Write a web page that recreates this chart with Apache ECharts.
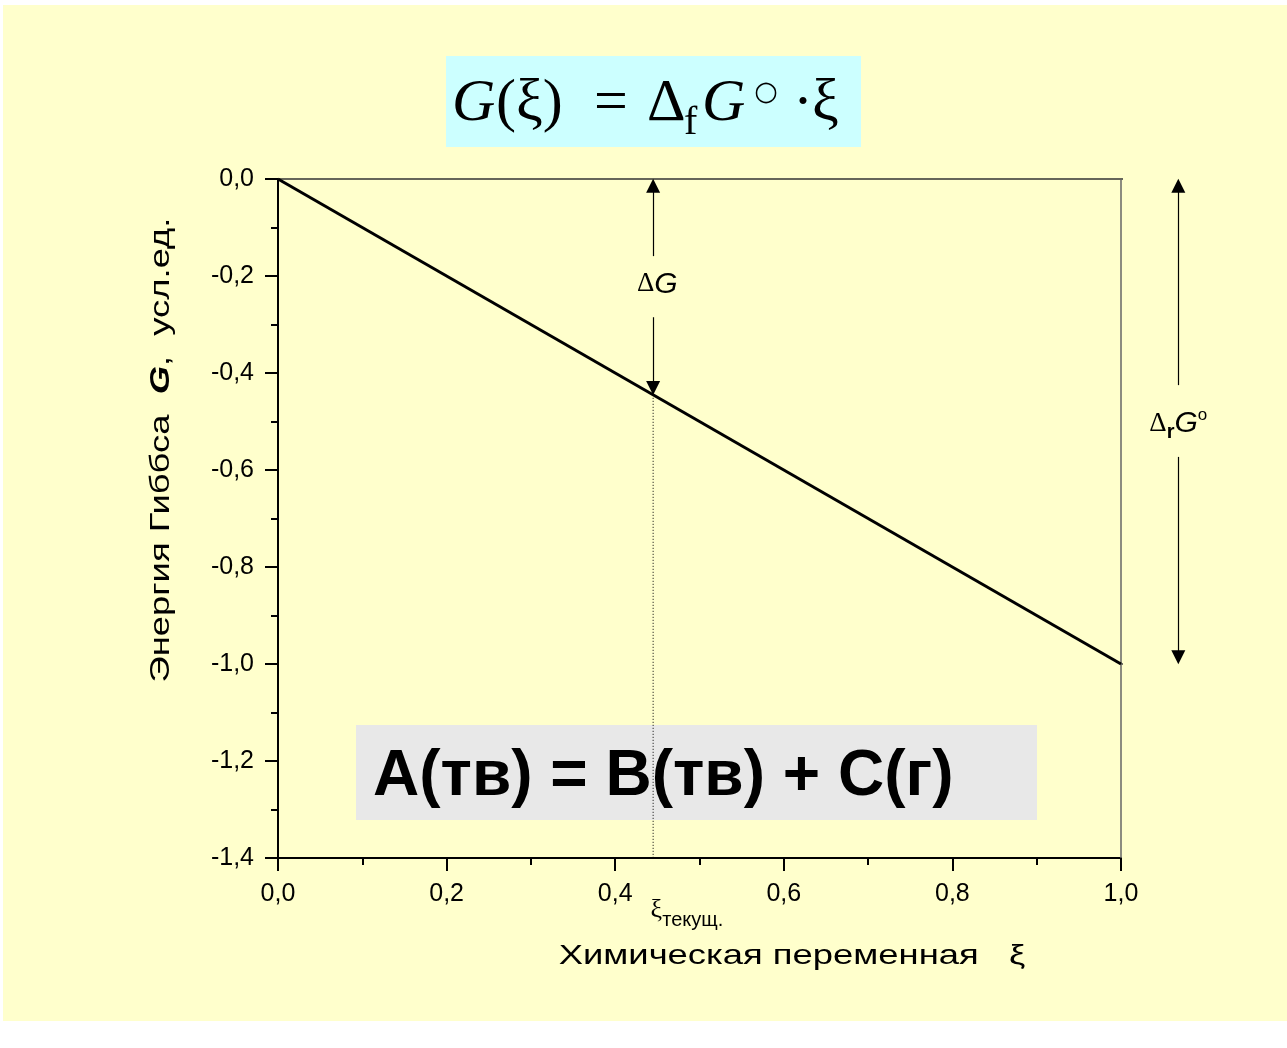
<!DOCTYPE html>
<html><head><meta charset="utf-8">
<script src="https://cdn.jsdelivr.net/npm/echarts@6/dist/echarts.min.js"></script>
<style>html,body{margin:0;padding:0;background:#fff}#c{width:1287px;height:1048px}</style>
</head><body><div id="c"></div>
<script>
// ---- data ----
const xiLine = [0, 1];            // chemical variable
const gLine = [0, -1];            // Gibbs energy
const xiCurrent = 0.445;          // ξ текущ.
const gCurrent = -0.445;
const xiRightArrow = 1.068;
const topExtEnd = 1.127;
const bottomExtEnd = 1.136;
const yTicks = ['0,0','-0,2','-0,4','-0,6','-0,8','-1,0','-1,2','-1,4'];
const xTicks = ['0,0','0,2','0,4','0,6','0,8','1,0'];
const arrowHalf = 0.014;
// arrow segments (value coords)
const dGTop = [[xiCurrent, -0.159], [xiCurrent, 0 - arrowHalf]];
const dGBot = [[xiCurrent, -0.285], [xiCurrent, gCurrent + arrowHalf]];
const drTop = [[xiRightArrow, -0.425], [xiRightArrow, 0 - arrowHalf]];
const drBot = [[xiRightArrow, -0.573], [xiRightArrow, -1 + arrowHalf]];

const chart = echarts.init(document.getElementById('c'), null, {renderer:'canvas'});
const fmt = v => v.toFixed(1).replace('.', ',');
const sans = 'Liberation Sans, Arial, sans-serif';
const serif = 'Liberation Serif, Times New Roman, serif';

const T = (txt, x, y, size, extra) => Object.assign({type: 'text', x: x, y: y,
  style: Object.assign({text: txt, fontFamily: serif, fontSize: size, fill: '#000', align: 'left', verticalAlign: 'middle'}, extra || {})});

chart.setOption({
  animation: false,
  backgroundColor: 'transparent',
  grid: {left: 278, top: 179, width: 843, height: 679, containLabel: false},
  xAxis: {
    type: 'value', min: 0, max: 1, interval: 0.2,
    axisLine: {show: true, onZero: false, lineStyle: {color: '#000', width: 2}},
    axisTick: {show: true, length: 13, lineStyle: {color: '#000', width: 2}},
    minorTick: {show: true, splitNumber: 2, length: 7, lineStyle: {color: '#000', width: 2}},
    splitLine: {show: false},
    axisLabel: {formatter: fmt, fontFamily: sans, fontSize: 25, color: '#000', margin: 24}
  },
  yAxis: {
    type: 'value', min: -1.4, max: 0, interval: 0.2,
    axisLine: {show: true, onZero: false, lineStyle: {color: '#000', width: 2}},
    axisTick: {show: true, length: 13, lineStyle: {color: '#000', width: 2}},
    minorTick: {show: true, splitNumber: 2, length: 7, lineStyle: {color: '#000', width: 2}},
    splitLine: {show: false},
    axisLabel: {formatter: fmt, fontFamily: sans, fontSize: 25, color: '#000', margin: 24}
  },
  series: [
    {type: 'line', data: xiLine.map((x,i)=>[x, gLine[i]]), symbol: 'none', clip: false,
     lineStyle: {color: '#000', width: 3}, z: 5},
    {type: 'line', data: [[0,0],[topExtEnd,0]], symbol: 'none', clip: false,
     lineStyle: {color: '#333', width: 1.5}, z: 4},
    {type: 'line', data: [[1,-1],[bottomExtEnd,-1]], symbol: 'none', clip: false,
     lineStyle: {color: '#444', width: 1.5}, z: 4},
    {type: 'line', data: [[1,0],[1,-1.4]], symbol: 'none', clip: false,
     lineStyle: {color: '#666', width: 1.5}, z: 4},
    {type: 'line', data: [[xiCurrent,gCurrent],[xiCurrent,-1.4]], symbol: 'none', clip: false,
     lineStyle: {color: '#000', width: 1, type: [1,2]}, z: 4},
    {type: 'lines', coordinateSystem: 'cartesian2d', clip: false, z: 6,
     symbol: ['none','triangle'], symbolSize: [7,14],
     lineStyle: {color: '#000', width: 1.2, opacity: 1},
     data: [{coords: dGTop},{coords: dGBot},{coords: drTop},{coords: drBot}]},
    {type: 'scatter', clip: false, symbolSize: 0, z: 7,
     itemStyle: {opacity: 1, color: '#000'},
     data: [
       {value: [xiCurrent + 0.005, -0.217], label: {formatter: '{d|Δ}{g|G}'}},
       {value: [xiRightArrow, -0.505], label: {formatter: '{d|Δ}{r|r}{g|G}{o|o}'}},
       {value: [xiCurrent - 0.003, -1.512], label: {formatter: '{x|ξ}{t|текущ.}', align: 'left'}}
     ],
     label: {show: true, position: 'inside', color: '#000', opacity: 1, textBorderWidth: 0,
       rich: {
         d: {fontFamily: serif, fontSize: 27, color: '#000'},
         g: {fontFamily: sans, fontSize: 30, fontStyle: 'italic', color: '#000'},
         r: {fontFamily: sans, fontSize: 20, fontWeight: 'bold', color: '#000', padding: [18,0,0,0]},
         o: {fontFamily: sans, fontSize: 17, color: '#000', padding: [0,0,18,0]},
         x: {fontFamily: serif, fontSize: 26, color: '#000', padding: [0,0,4,0]},
         t: {fontFamily: sans, fontSize: 20, color: '#000', padding: [16,0,0,0]}
       }}
    }
  ],
  graphic: [
    {type: 'rect', left: 3, top: 5, shape: {width: 1284, height: 1016}, style: {fill: '#FFFFCC'}, z: -10, silent: true},
    // formula box
    {type: 'group', x: 446, y: 56, z: 100, children: [
      {type: 'rect', shape: {x: 0, y: 0, width: 415, height: 91}, style: {fill: '#CCFFFF'}},
      T('G', 6, 48, 60, {fontStyle: 'italic'}),
      T('(ξ)', 50, 48, 60),
      T('=', 148, 48, 60),
      T('Δ', 201, 48, 60),
      T('f', 238, 67, 40),
      T('G', 256, 48, 60, {fontStyle: 'italic'}),
      T('○', 320, 37, 27, {fontFamily: 'DejaVu Sans', align: 'center'}),
      T('·', 347, 48, 60),
      T('ξ', 366, 48, 60)
    ]},
    // reaction box
    {type: 'group', x: 356, y: 725, z: 100, children: [
      {type: 'rect', shape: {x: 0, y: 0, width: 681, height: 95}, style: {fill: '#E8E8E8'}},
      T('A(тв) = B(тв) + C(г)', 17, 52, 64, {fontFamily: sans, fontWeight: 'bold'})
    ]},
    // axis titles
    {type: 'text', x: 792, y: 956, scaleX: 1.3, z: 50, style: {text: 'Химическая переменная   ξ',
      fontFamily: sans, fontSize: 28, fill: '#000', align: 'center', verticalAlign: 'middle'}},
    {type: 'text', x: 161, y: 450, rotation: Math.PI / 2, scaleX: 1.3, z: 50, style: {
      text: '{n|Энергия Гиббса  }{b|G}{n|,  усл.ед.}', align: 'center', verticalAlign: 'middle',
      rich: {
        n: {fontFamily: sans, fontSize: 28, fill: '#000'},
        b: {fontFamily: sans, fontSize: 28, fill: '#000', fontWeight: 'bold', fontStyle: 'italic'}
      }}}
  ]
});
</script></body></html>
